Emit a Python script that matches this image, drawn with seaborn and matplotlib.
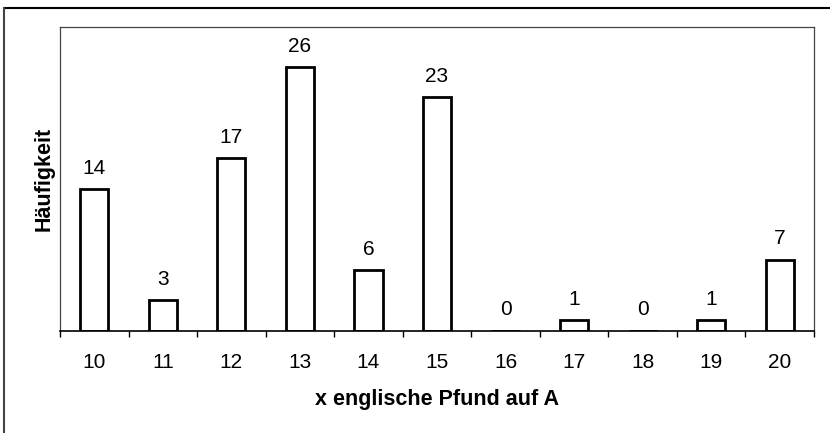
import matplotlib
matplotlib.use('Agg')
import matplotlib.pyplot as plt
import seaborn as sns
import pandas as pd
from matplotlib.lines import Line2D

# Daten
pfund = ['10', '11', '12', '13', '14', '15', '16', '17', '18', '19', '20']
haeufigkeit = [14, 3, 17, 26, 6, 23, 0, 1, 0, 1, 7]

df = pd.DataFrame({'pfund': pfund, 'haeufigkeit': haeufigkeit})

sns.set_style('white')
plt.rcParams['font.family'] = ['Liberation Sans', 'DejaVu Sans']
plt.rcParams['text.color'] = 'black'
plt.rcParams['axes.labelcolor'] = 'black'
plt.rcParams['xtick.color'] = 'black'

fig = plt.figure(figsize=(8.3, 4.33), dpi=100)
ax = fig.add_axes([60 / 830, 1 - 330.5 / 433, 754 / 830, 304 / 433])

sns.barplot(data=df, x='pfund', y='haeufigkeit', color='white', edgecolor='black',
            linewidth=2, width=0.41, ax=ax)

ax.set_ylim(0, 30)
ax.set_xlim(-0.5, len(pfund) - 0.5)

# Werte über den Balken
for i, v in enumerate(haeufigkeit):
    ax.annotate(str(v), (i, v), xytext=(0, 8), textcoords='offset points',
                ha='center', va='bottom', fontsize=15, color='black')

# Rahmen des Diagrammbereichs (gestrichelt)
for side in ['top', 'right', 'left']:
    ax.spines[side].set_visible(True)
    ax.spines[side].set_linestyle((0, (4, 1)))
    ax.spines[side].set_linewidth(0.9)
    ax.spines[side].set_color('#444444')
ax.spines['bottom'].set_color('black')
ax.spines['bottom'].set_linewidth(1.2)

# Teilstriche zwischen den Kategorien
ax.set_xticks([x - 0.5 for x in range(len(pfund) + 1)], minor=True)
ax.tick_params(axis='x', which='minor', bottom=True, length=4, width=1, color='black', direction='out')
ax.tick_params(axis='x', which='major', bottom=False, labelsize=15, pad=13)
ax.set_yticks([])

ax.set_xlabel('x englische Pfund auf A', fontsize=15.5, fontweight='bold', labelpad=12)
ax.set_ylabel('Häufigkeit', fontsize=15.5, fontweight='bold', labelpad=4)

# äußerer Rahmen (oben und links)
fig.add_artist(Line2D([4 / 830, 1], [1 - 8 / 433, 1 - 8 / 433], color='black', lw=1.5))
fig.add_artist(Line2D([4 / 830, 4 / 830], [0, 1 - 8 / 433], color='#444444', lw=1.5))

plt.savefig('out.png', dpi=100)
